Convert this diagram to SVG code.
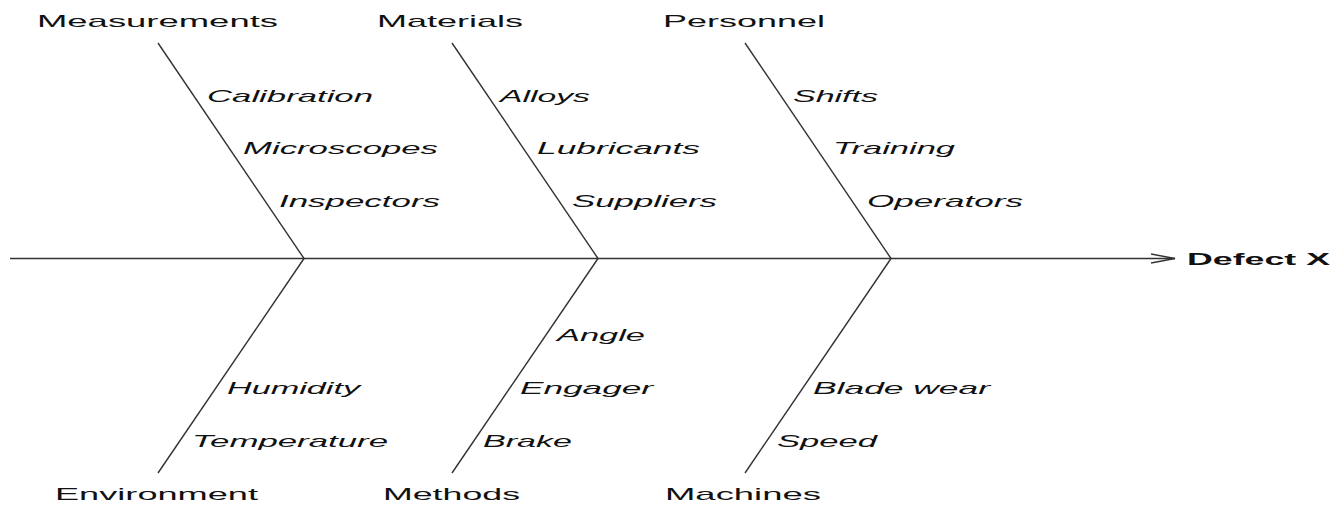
<svg xmlns="http://www.w3.org/2000/svg" width="1337" height="505" viewBox="0 0 1337 505">
<style>
.ln{stroke:#333;stroke-width:1.4;fill:none}
.cat{font-family:"Liberation Sans",Arial,sans-serif;font-size:17px;fill:#111}
.cause{font-family:"Liberation Sans",Arial,sans-serif;font-size:17px;font-style:italic;fill:#111}
.eff{font-family:"Liberation Sans",Arial,sans-serif;font-size:17px;font-weight:bold;fill:#111}
</style>
<defs>
<marker id="arr" markerWidth="26" markerHeight="12" refX="24" refY="6" orient="auto" markerUnits="userSpaceOnUse">
<path d="M0,1.5 L24,6 L0,10.5" fill="none" stroke="#333" stroke-width="1.4"/>
</marker>
</defs>
<g id="connectors">
<line class="ln" x1="10" y1="258.5" x2="1175" y2="258.5" marker-end="url(#arr)"/>
<line class="ln" x1="158" y1="43" x2="304" y2="258.5"/>
<line class="ln" x1="452" y1="43" x2="598" y2="258.5"/>
<line class="ln" x1="745" y1="43" x2="891" y2="258.5"/>
<line class="ln" x1="304" y1="258.5" x2="158" y2="473"/>
<line class="ln" x1="598" y1="258.5" x2="452" y2="473"/>
<line class="ln" x1="891" y1="258.5" x2="745" y2="473"/>
</g>
<g id="effect"><text class="eff" x="1187" y="265" textLength="143" lengthAdjust="spacingAndGlyphs">Defect X</text></g>
<g id="measurements">
<text class="cat" x="37" y="27" textLength="241" lengthAdjust="spacingAndGlyphs">Measurements</text>
<text class="cause" x="207" y="102" textLength="166" lengthAdjust="spacingAndGlyphs">Calibration</text>
<text class="cause" x="243" y="154" textLength="195" lengthAdjust="spacingAndGlyphs">Microscopes</text>
<text class="cause" x="279" y="207" textLength="161" lengthAdjust="spacingAndGlyphs">Inspectors</text>
</g>
<g id="materials">
<text class="cat" x="377" y="27" textLength="146" lengthAdjust="spacingAndGlyphs">Materials</text>
<text class="cause" x="500" y="102" textLength="90" lengthAdjust="spacingAndGlyphs">Alloys</text>
<text class="cause" x="537" y="154" textLength="163" lengthAdjust="spacingAndGlyphs">Lubricants</text>
<text class="cause" x="572" y="207" textLength="145" lengthAdjust="spacingAndGlyphs">Suppliers</text>
</g>
<g id="personnel">
<text class="cat" x="663" y="27" textLength="162" lengthAdjust="spacingAndGlyphs">Personnel</text>
<text class="cause" x="793" y="102" textLength="85" lengthAdjust="spacingAndGlyphs">Shifts</text>
<text class="cause" x="833" y="154" textLength="122" lengthAdjust="spacingAndGlyphs">Training</text>
<text class="cause" x="867" y="207" textLength="156" lengthAdjust="spacingAndGlyphs">Operators</text>
</g>
<g id="environment">
<text class="cat" x="55" y="500" textLength="203" lengthAdjust="spacingAndGlyphs">Environment</text>
<text class="cause" x="227" y="394" textLength="133" lengthAdjust="spacingAndGlyphs">Humidity</text>
<text class="cause" x="192" y="447" textLength="196" lengthAdjust="spacingAndGlyphs">Temperature</text>
</g>
<g id="methods">
<text class="cat" x="383" y="500" textLength="137" lengthAdjust="spacingAndGlyphs">Methods</text>
<text class="cause" x="557" y="341" textLength="88" lengthAdjust="spacingAndGlyphs">Angle</text>
<text class="cause" x="520" y="394" textLength="133" lengthAdjust="spacingAndGlyphs">Engager</text>
<text class="cause" x="483" y="447" textLength="89" lengthAdjust="spacingAndGlyphs">Brake</text>
</g>
<g id="machines">
<text class="cat" x="665" y="500" textLength="156" lengthAdjust="spacingAndGlyphs">Machines</text>
<text class="cause" x="813" y="394" textLength="177" lengthAdjust="spacingAndGlyphs">Blade wear</text>
<text class="cause" x="777" y="447" textLength="100" lengthAdjust="spacingAndGlyphs">Speed</text>
</g>
</svg>
